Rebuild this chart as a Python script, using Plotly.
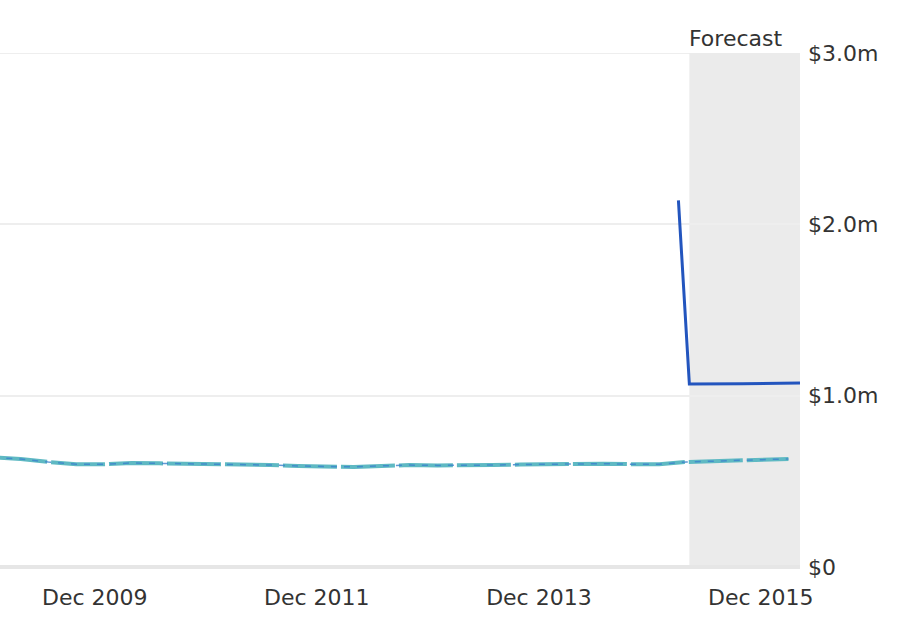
import plotly.graph_objs as go

# average value (dashed, two overlapping series)
trend_dates = [
    "2009-01-01", "2009-04-01", "2009-07-01", "2009-10-01",
    "2010-01-01", "2010-04-01", "2010-07-01", "2010-10-01",
    "2011-01-01", "2011-04-01", "2011-07-01", "2011-10-01",
    "2012-01-01", "2012-04-01", "2012-07-01", "2012-10-01",
    "2013-01-01", "2013-04-01", "2013-07-01", "2013-10-01",
    "2014-01-01", "2014-04-01", "2014-07-01", "2014-10-01",
    "2015-01-01", "2015-04-01", "2015-07-01", "2015-10-01",
    "2016-01-01", "2016-03-01",
]
trend_values = [
    0.64, 0.63, 0.613, 0.60,
    0.60, 0.607, 0.605, 0.603,
    0.60, 0.60, 0.595, 0.59,
    0.585, 0.584, 0.59, 0.595,
    0.593, 0.592, 0.595, 0.598,
    0.60, 0.60, 0.603, 0.60,
    0.60, 0.613, 0.619, 0.625,
    0.628, 0.631,
]

# forecast series (solid)
forecast_dates = ["2015-03-05", "2015-04-10", "2015-10-01", "2016-04-08"]
forecast_values = [2.14, 1.068, 1.070, 1.074]

forecast_start = "2015-04-10"
x_start, x_end = "2009-01-23", "2016-04-08"

y_ticks = [0, 1.0, 2.0, 3.0]
y_labels = ["$0", "$1.0m", "$2.0m", "$3.0m"]

fig = go.Figure()

# 顶部网格线 (plotly 在范围边缘不画)
fig.add_shape(
    type="line", xref="paper", yref="y",
    x0=0, x1=1, y0=3.0, y1=3.0,
    line=dict(color="#eeeeee", width=2), layer="below"
)

# 预测区域阴影
fig.add_shape(
    type="rect", xref="x", yref="y",
    x0=forecast_start, x1=x_end, y0=0.01, y1=3.0,
    fillcolor="#ebebeb", line=dict(width=0), layer="below"
)

fig.add_trace(go.Scatter(
    x=trend_dates, y=trend_values, mode="lines",
    line=dict(color="rgb(95,185,195)", width=4, dash="54px,4px"),
    hoverinfo="skip"
))
fig.add_trace(go.Scatter(
    x=trend_dates, y=trend_values, mode="lines",
    line=dict(color="rgb(60,130,205)", width=1.5, dash="6px,7px"),
    opacity=0.8,
    hoverinfo="skip"
))
fig.add_trace(go.Scatter(
    x=forecast_dates, y=forecast_values, mode="lines",
    line=dict(color="rgb(35,85,190)", width=3),
    hoverinfo="skip"
))

fig.add_annotation(
    x="2015-09-10", y=1, xref="x", yref="paper",
    text="Forecast", showarrow=False,
    yanchor="bottom", yshift=0,
    font=dict(size=22, color="#333333")
)

fig.update_layout(
    width=898, height=634,
    margin=dict(l=0, r=98, t=53, b=67),
    plot_bgcolor="white", paper_bgcolor="white",
    showlegend=False,
    font=dict(family="DejaVu Sans", size=22, color="#333333")
)

fig.update_xaxes(
    type="date", range=[x_start, x_end],
    tick0="2009-12-01", dtick="M24", tickformat="%b %Y",
    showgrid=False, showline=False, zeroline=False, ticks="",
    ticklabelstandoff=15
)
fig.update_yaxes(
    range=[0, 3.0], side="right",
    tickvals=y_ticks, ticktext=y_labels,
    showgrid=True, gridcolor="#eeeeee", gridwidth=2,
    zeroline=True, zerolinecolor="#e6e6e6", zerolinewidth=4,
    showline=False, ticks="", ticklabelstandoff=7
)

# 页面 body 默认有 8px 边距，去掉
fig.write_html(
    "out.html",
    config={"displayModeBar": False},
    post_script="document.body.style.margin='0';"
)
